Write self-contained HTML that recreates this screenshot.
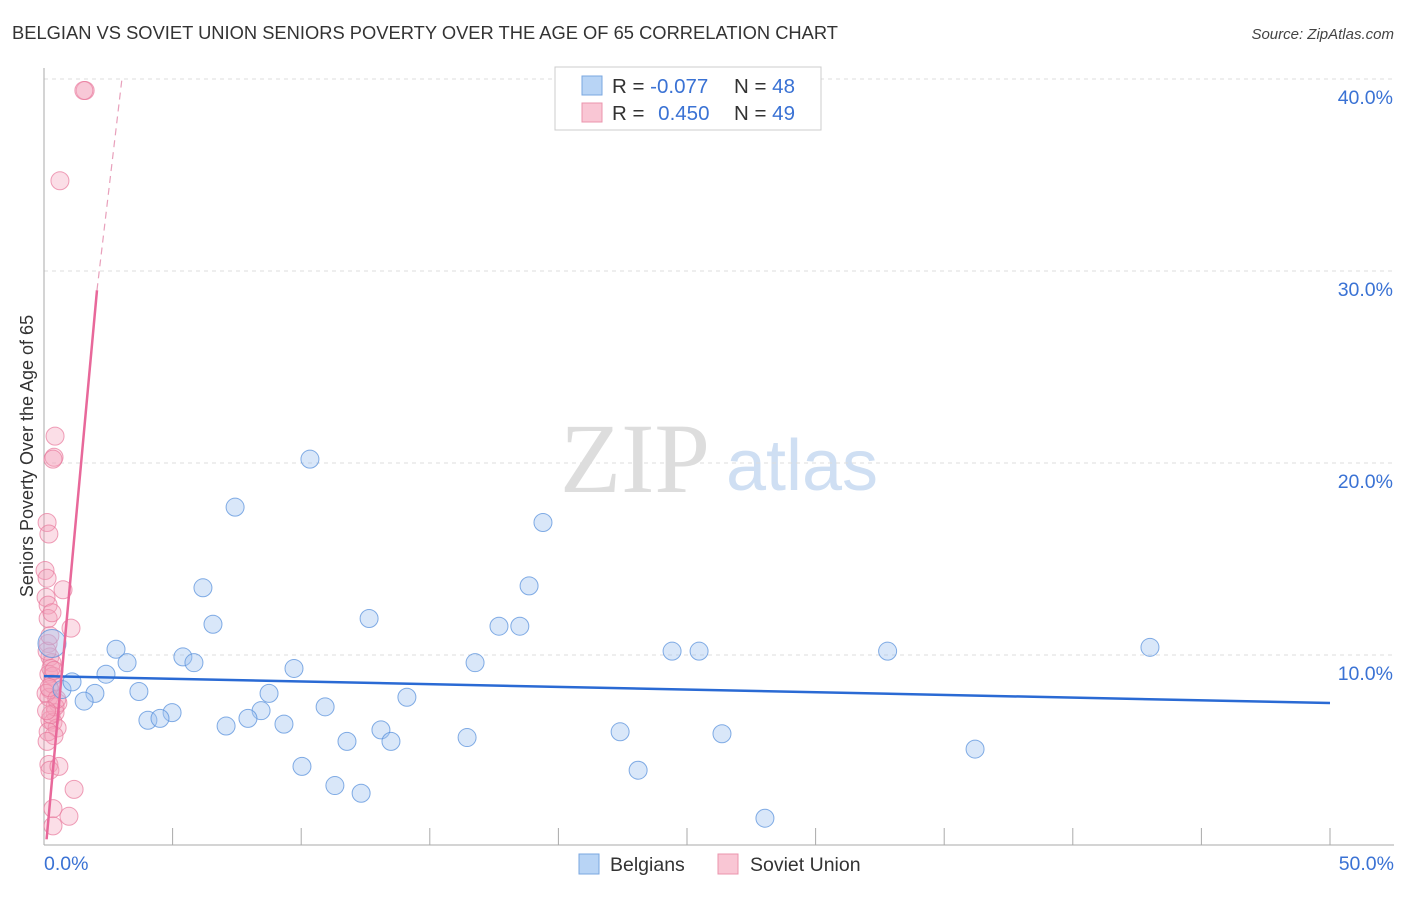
<!DOCTYPE html>
<html><head><meta charset="utf-8"><style>
body{margin:0;background:#fff;font-family:"Liberation Sans",sans-serif;}
svg text{font-family:"Liberation Sans",sans-serif;}
</style></head><body>
<svg id="chart" width="1406" height="892" xmlns="http://www.w3.org/2000/svg">
<text x="12" y="39" font-size="18" fill="#333" textLength="826" lengthAdjust="spacingAndGlyphs">BELGIAN VS SOVIET UNION SENIORS POVERTY OVER THE AGE OF 65 CORRELATION CHART</text>
<text x="1394" y="39" font-size="15" fill="#444" text-anchor="end" font-style="italic">Source: ZipAtlas.com</text>
<text transform="translate(33,456) rotate(-90)" font-size="18" fill="#333" text-anchor="middle">Seniors Poverty Over the Age of 65</text>
<g>
<text x="635" y="492" font-size="100" fill="#ddd" text-anchor="middle" style="font-family:'Liberation Serif',serif">ZIP</text>
<text x="802" y="490" font-size="72" fill="#cfdff3" text-anchor="middle">atlas</text>
</g>
<g id="grid"></g><g id="axes"></g><g id="marks"></g>
<g>
<rect x="555" y="67" width="266" height="63" fill="#fff" stroke="#ccc"/>
<rect x="582" y="76" width="20" height="19" fill="#b8d4f5" stroke="#7aa7e0"/>
<rect x="582" y="103" width="20" height="19" fill="#f9c6d4" stroke="#eb94ad"/>
<text x="612" y="93" font-size="20.5" fill="#333">R = <tspan fill="#3a72d4">-0.077</tspan></text>
<text x="734" y="93" font-size="20.5" fill="#333">N = <tspan fill="#3a72d4">48</tspan></text>
<text x="612" y="120" font-size="20.5" fill="#333">R = <tspan fill="#3a72d4" dx="8">0.450</tspan></text>
<text x="734" y="120" font-size="20.5" fill="#333">N = <tspan fill="#3a72d4">49</tspan></text>
</g>
<g>
<rect x="579" y="854" width="20" height="20" fill="#b8d4f5" stroke="#7aa7e0"/>
<text x="610" y="871" font-size="19.5" fill="#333">Belgians</text>
<rect x="718" y="854" width="20" height="20" fill="#f9c6d4" stroke="#eb94ad"/>
<text x="750" y="871" font-size="19.5" fill="#333">Soviet Union</text>
</g>
</svg>
<script>
const blueX=[10.34,7.43,19.4,6.18,18.86,12.64,6.57,17.69,18.5,2.8,3.23,5.4,5.83,9.72,16.76,24.42,25.47,32.8,43.0,0.7,1.09,2.41,1.98,1.56,3.69,8.75,14.11,4.98,4.04,4.51,8.44,7.93,7.08,9.33,10.93,13.1,11.78,13.49,16.45,22.4,26.36,10.03,23.1,36.2,11.31,12.33,28.03,0.31];
const blueY=[20.2,17.7,16.9,13.5,13.6,11.9,11.6,11.5,11.5,10.3,9.6,9.9,9.6,9.3,9.6,10.2,10.2,10.2,10.4,8.2,8.6,9.0,8.0,7.6,8.1,8.0,7.8,7.0,6.6,6.7,7.1,6.7,6.3,6.4,7.3,6.1,5.5,5.5,5.7,6.0,5.9,4.2,4.0,5.1,3.2,2.8,1.5,10.6];
const pinkX=[1.6,1.55,0.62,0.43,0.39,0.35,0.12,0.19,0.04,0.12,0.74,0.08,0.16,0.16,1.05,0.16,0.23,0.31,0.19,0.35,0.23,0.19,0.54,0.43,0.23,0.35,0.51,0.39,0.19,0.23,0.58,1.17,0.35,0.97,0.35,0.12,0.27,0.31,0.08,0.43,0.27,0.16,0.12,0.31,0.23,0.39,0.2,0.5,0.1];
const pinkY=[39.4,39.4,34.7,21.4,20.3,20.2,16.9,16.3,14.4,14.0,13.4,13.0,12.6,11.9,11.4,10.6,9.9,9.6,9.0,8.9,8.2,7.8,7.5,7.0,6.6,6.5,6.2,5.8,4.3,4.0,4.2,3.0,2.0,1.6,1.1,10.2,9.3,8.5,8.0,7.3,6.9,6.0,5.5,12.2,11.0,9.2,8.3,7.7,7.1];
const yTicks=[10,20,30,40];
const trendBlue=[8.9,7.5];
const trendPink=[0.1,0.4,2.06,29.0,3.03,40.0];
const NS="http://www.w3.org/2000/svg";
const sx=v=>44+v*(1286/50), sy=v=>847-v*19.2;
function mk(tag,attrs,parent){const e=document.createElementNS(NS,tag);for(const k in attrs)e.setAttribute(k,attrs[k]);parent.appendChild(e);return e;}
const grid=document.getElementById('grid'),axes=document.getElementById('axes'),marks=document.getElementById('marks');
yTicks.forEach(t=>{
 const l=mk('line',{x1:44,x2:1394,y1:sy(t),y2:sy(t),stroke:'#ddd','stroke-dasharray':'4,4'},grid);
 
 
 const tx=mk('text',{x:1393,y:sy(t)+25,'font-size':19.5,fill:'#3a72d4','text-anchor':'end'},axes);tx.textContent=t.toFixed(1)+'%';
 
 
});
const ya=mk('line',{x1:44,x2:44,y1:68,y2:845,stroke:'#aaa'},axes);


const xa=mk('line',{x1:44,x2:1394,y1:845,y2:845,stroke:'#aaa'},axes);


for(let i=1;i<=10;i++){const v=i*5;const t=mk('line',{x1:sx(v),x2:sx(v),y1:828,y2:845,stroke:'#aaa'},axes);
 
 }
[[0,'0.0%','start',44],[50,'50.0%','end',1394]].forEach(a=>{const t=mk('text',{x:a[3],y:870,'font-size':19.5,fill:'#3a72d4','text-anchor':a[2]},axes);t.textContent=a[1];
 
 });
pinkX.forEach((x,i)=>{const c=mk('circle',{cx:sx(x),cy:sy(pinkY[i]),r:9,fill:'rgba(244,160,185,0.35)',stroke:'rgba(232,120,155,0.7)','stroke-width':1},marks);
 
 });
blueX.forEach((x,i)=>{const big=i===blueX.length-1;const c=mk('circle',{cx:sx(x),cy:sy(blueY[i]),r:big?14:9,fill:'rgba(160,195,240,0.4)',stroke:'rgba(90,145,220,0.75)','stroke-width':1},marks);
 
 });
const tb=mk('line',{x1:sx(0),y1:sy(trendBlue[0]),x2:sx(50),y2:sy(trendBlue[1]),stroke:'#2a6ad4','stroke-width':2.5},marks);


const tp=mk('line',{x1:sx(trendPink[0]),y1:sy(trendPink[1]),x2:sx(trendPink[2]),y2:sy(trendPink[3]),stroke:'#e8689a','stroke-width':2.5},marks);


const td=mk('line',{x1:sx(trendPink[2]),y1:sy(trendPink[3]),x2:sx(trendPink[4]),y2:sy(trendPink[5]),stroke:'#e8a0bb','stroke-width':1.2,'stroke-dasharray':'7,5'},marks);


</script>
</body></html>
